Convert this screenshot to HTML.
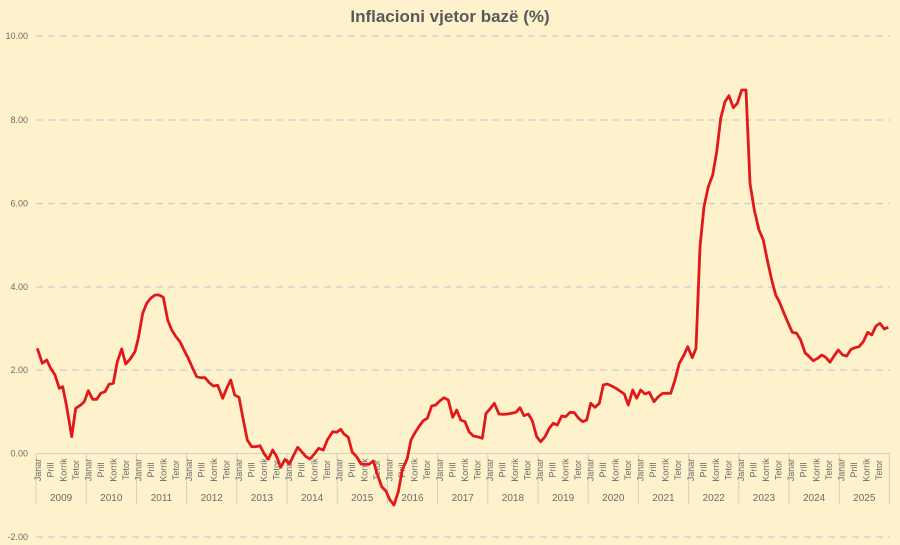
<!DOCTYPE html>
<html><head><meta charset="utf-8"><style>
html,body{margin:0;padding:0;background:#FEF2CC;}
svg{display:block;font-family:"Liberation Sans",sans-serif;}
.g{stroke:#c9cfd4;stroke-width:1.3;stroke-dasharray:7,5;}
.yl{font-size:9px;fill:#6b6b6b;text-anchor:end;}
.m{font-size:9px;fill:#6b6b6b;text-anchor:middle;}
.yr{font-size:10px;fill:#6b6b6b;text-anchor:middle;}
.s{stroke:#d6cfb8;stroke-width:1;}
</style></head><body>
<svg width="900" height="545" viewBox="0 0 900 545">
<rect width="900" height="545" fill="#FEF2CC"/>
<text x="450" y="22" text-anchor="middle" font-size="17" font-weight="bold" fill="#595959">Inflacioni  vjetor bazë (%)</text>
<line class="g" x1="36" x2="890" y1="36" y2="36"/>
<line class="g" x1="36" x2="890" y1="120" y2="120"/>
<line class="g" x1="36" x2="890" y1="203.5" y2="203.5"/>
<line class="g" x1="36" x2="890" y1="287" y2="287"/>
<line class="g" x1="36" x2="890" y1="370" y2="370"/>
<line class="g" x1="36" x2="890" y1="537" y2="537"/>
<line x1="36" x2="890" y1="453.5" y2="453.5" stroke="#d6d2c4" stroke-width="1"/>
<text class="yl" x="28" y="39">10.00</text>
<text class="yl" x="28" y="123">8.00</text>
<text class="yl" x="28" y="206.5">6.00</text>
<text class="yl" x="28" y="290">4.00</text>
<text class="yl" x="28" y="373">2.00</text>
<text class="yl" x="28" y="456.5">0.00</text>
<text class="yl" x="28" y="540">-2.00</text>
<g id="y0" transform="translate(36,0)"><line class="s" x1="0" x2="0" y1="453" y2="504"/><text class="m" transform="translate(5.2,470) rotate(-90)">Janar</text><text class="m" transform="translate(17.7,470) rotate(-90)">Prill</text><text class="m" transform="translate(30.3,470) rotate(-90)">Korrik</text><text class="m" transform="translate(42.8,470) rotate(-90)">Tetor</text><text class="yr" x="25.1" y="501">2009</text></g>
<g transform="translate(86.2,0)"><line class="s" x1="0" x2="0" y1="453" y2="504"/><text class="m" transform="translate(5.2,470) rotate(-90)">Janar</text><text class="m" transform="translate(17.7,470) rotate(-90)">Prill</text><text class="m" transform="translate(30.3,470) rotate(-90)">Korrik</text><text class="m" transform="translate(42.8,470) rotate(-90)">Tetor</text><text class="yr" x="25.1" y="501">2010</text></g>
<g transform="translate(136.4,0)"><line class="s" x1="0" x2="0" y1="453" y2="504"/><text class="m" transform="translate(5.2,470) rotate(-90)">Janar</text><text class="m" transform="translate(17.7,470) rotate(-90)">Prill</text><text class="m" transform="translate(30.3,470) rotate(-90)">Korrik</text><text class="m" transform="translate(42.8,470) rotate(-90)">Tetor</text><text class="yr" x="25.1" y="501">2011</text></g>
<g transform="translate(186.6,0)"><line class="s" x1="0" x2="0" y1="453" y2="504"/><text class="m" transform="translate(5.2,470) rotate(-90)">Janar</text><text class="m" transform="translate(17.7,470) rotate(-90)">Prill</text><text class="m" transform="translate(30.3,470) rotate(-90)">Korrik</text><text class="m" transform="translate(42.8,470) rotate(-90)">Tetor</text><text class="yr" x="25.1" y="501">2012</text></g>
<g transform="translate(236.8,0)"><line class="s" x1="0" x2="0" y1="453" y2="504"/><text class="m" transform="translate(5.2,470) rotate(-90)">Janar</text><text class="m" transform="translate(17.7,470) rotate(-90)">Prill</text><text class="m" transform="translate(30.3,470) rotate(-90)">Korrik</text><text class="m" transform="translate(42.8,470) rotate(-90)">Tetor</text><text class="yr" x="25.1" y="501">2013</text></g>
<g transform="translate(287,0)"><line class="s" x1="0" x2="0" y1="453" y2="504"/><text class="m" transform="translate(5.2,470) rotate(-90)">Janar</text><text class="m" transform="translate(17.7,470) rotate(-90)">Prill</text><text class="m" transform="translate(30.3,470) rotate(-90)">Korrik</text><text class="m" transform="translate(42.8,470) rotate(-90)">Tetor</text><text class="yr" x="25.1" y="501">2014</text></g>
<g transform="translate(337.2,0)"><line class="s" x1="0" x2="0" y1="453" y2="504"/><text class="m" transform="translate(5.2,470) rotate(-90)">Janar</text><text class="m" transform="translate(17.7,470) rotate(-90)">Prill</text><text class="m" transform="translate(30.3,470) rotate(-90)">Korrik</text><text class="m" transform="translate(42.8,470) rotate(-90)">Tetor</text><text class="yr" x="25.1" y="501">2015</text></g>
<g transform="translate(387.4,0)"><line class="s" x1="0" x2="0" y1="453" y2="504"/><text class="m" transform="translate(5.2,470) rotate(-90)">Janar</text><text class="m" transform="translate(17.7,470) rotate(-90)">Prill</text><text class="m" transform="translate(30.3,470) rotate(-90)">Korrik</text><text class="m" transform="translate(42.8,470) rotate(-90)">Tetor</text><text class="yr" x="25.1" y="501">2016</text></g>
<g transform="translate(437.6,0)"><line class="s" x1="0" x2="0" y1="453" y2="504"/><text class="m" transform="translate(5.2,470) rotate(-90)">Janar</text><text class="m" transform="translate(17.7,470) rotate(-90)">Prill</text><text class="m" transform="translate(30.3,470) rotate(-90)">Korrik</text><text class="m" transform="translate(42.8,470) rotate(-90)">Tetor</text><text class="yr" x="25.1" y="501">2017</text></g>
<g transform="translate(487.8,0)"><line class="s" x1="0" x2="0" y1="453" y2="504"/><text class="m" transform="translate(5.2,470) rotate(-90)">Janar</text><text class="m" transform="translate(17.7,470) rotate(-90)">Prill</text><text class="m" transform="translate(30.3,470) rotate(-90)">Korrik</text><text class="m" transform="translate(42.8,470) rotate(-90)">Tetor</text><text class="yr" x="25.1" y="501">2018</text></g>
<g transform="translate(538,0)"><line class="s" x1="0" x2="0" y1="453" y2="504"/><text class="m" transform="translate(5.2,470) rotate(-90)">Janar</text><text class="m" transform="translate(17.7,470) rotate(-90)">Prill</text><text class="m" transform="translate(30.3,470) rotate(-90)">Korrik</text><text class="m" transform="translate(42.8,470) rotate(-90)">Tetor</text><text class="yr" x="25.1" y="501">2019</text></g>
<g transform="translate(588.2,0)"><line class="s" x1="0" x2="0" y1="453" y2="504"/><text class="m" transform="translate(5.2,470) rotate(-90)">Janar</text><text class="m" transform="translate(17.7,470) rotate(-90)">Prill</text><text class="m" transform="translate(30.3,470) rotate(-90)">Korrik</text><text class="m" transform="translate(42.8,470) rotate(-90)">Tetor</text><text class="yr" x="25.1" y="501">2020</text></g>
<g transform="translate(638.4,0)"><line class="s" x1="0" x2="0" y1="453" y2="504"/><text class="m" transform="translate(5.2,470) rotate(-90)">Janar</text><text class="m" transform="translate(17.7,470) rotate(-90)">Prill</text><text class="m" transform="translate(30.3,470) rotate(-90)">Korrik</text><text class="m" transform="translate(42.8,470) rotate(-90)">Tetor</text><text class="yr" x="25.1" y="501">2021</text></g>
<g transform="translate(688.6,0)"><line class="s" x1="0" x2="0" y1="453" y2="504"/><text class="m" transform="translate(5.2,470) rotate(-90)">Janar</text><text class="m" transform="translate(17.7,470) rotate(-90)">Prill</text><text class="m" transform="translate(30.3,470) rotate(-90)">Korrik</text><text class="m" transform="translate(42.8,470) rotate(-90)">Tetor</text><text class="yr" x="25.1" y="501">2022</text></g>
<g transform="translate(738.8,0)"><line class="s" x1="0" x2="0" y1="453" y2="504"/><text class="m" transform="translate(5.2,470) rotate(-90)">Janar</text><text class="m" transform="translate(17.7,470) rotate(-90)">Prill</text><text class="m" transform="translate(30.3,470) rotate(-90)">Korrik</text><text class="m" transform="translate(42.8,470) rotate(-90)">Tetor</text><text class="yr" x="25.1" y="501">2023</text></g>
<g transform="translate(789,0)"><line class="s" x1="0" x2="0" y1="453" y2="504"/><text class="m" transform="translate(5.2,470) rotate(-90)">Janar</text><text class="m" transform="translate(17.7,470) rotate(-90)">Prill</text><text class="m" transform="translate(30.3,470) rotate(-90)">Korrik</text><text class="m" transform="translate(42.8,470) rotate(-90)">Tetor</text><text class="yr" x="25.1" y="501">2024</text></g>
<g transform="translate(839.2,0)"><line class="s" x1="0" x2="0" y1="453" y2="504"/><text class="m" transform="translate(5.2,470) rotate(-90)">Janar</text><text class="m" transform="translate(17.7,470) rotate(-90)">Prill</text><text class="m" transform="translate(30.3,470) rotate(-90)">Korrik</text><text class="m" transform="translate(42.8,470) rotate(-90)">Tetor</text><text class="yr" x="25.1" y="501">2025</text></g>
<line class="s" x1="889.4" x2="889.4" y1="453" y2="504"/>
<polyline fill="none" stroke="#E0191B" stroke-width="2.8" stroke-linejoin="round" points="37.3,348.3 42.3,363.3 46.7,360 50.7,368.3 55,375 59.3,388.3 62.7,386.7 66.7,406.7 71.7,436.7 75.7,408.3 80.7,405 84.3,401.7 88.3,390.7 92.7,399.3 96.7,399.3 100.7,393.3 105,391.7 109,384.3 113.3,383.3 117.3,361.7 121.7,349 125.7,364 130,359.3 135,351.7 138.3,338.3 142.7,313.3 146.7,303.3 150.7,298.3 155,295 159,295 163.3,297.3 167.7,320 171.7,330 176,336.7 180,341.7 184,350 188.3,358.3 192.7,368.3 196.7,376.7 200.7,377.7 205,377.7 209.3,382.7 213.3,386 217.7,385.3 222.7,398.3 226.7,388.3 230.7,380 234.7,395 239,397.3 243.3,420 247.3,440 251.7,446.7 255.7,446.7 260,445.7 264.3,454 268.3,459.3 272.7,450 276.7,456.7 280.7,467.3 285,459.3 289.3,464 293.3,456 297.7,447.3 301.7,451.7 306,456.7 310,459 314.3,454 318.7,448.3 323.3,450 327.3,440 332.7,431.7 336.7,432.3 340.7,429.3 344,434 348.3,437.3 352.3,452.3 356.7,456.7 361,464 365,464.3 369,464.3 373.3,461 377.3,474 381.7,486.7 385.7,490.7 390,500 394,505 398.3,491.7 402.3,470 407.3,458.3 411,440 415,432.7 419.3,426 423.3,420.7 427.3,418.3 431.7,406 435.7,405 440,400.7 444,397.7 448.3,400 452.7,417.3 456.7,410 460.7,420 465,421.7 469,431.7 473.3,436 477.3,436.7 482.3,438.3 486,413.3 490,409 494.3,403.3 499,414 503.3,414.3 507.7,414 511.7,413.3 516,412.3 520,407.7 524,415.7 528.3,414 532.3,420.7 536.7,436.7 540.7,441.7 545,436.7 549.3,428.3 553.3,423.3 557.3,425 561.7,416 565.7,416.7 570,412.3 574.3,412.7 578.7,418.3 582.7,421.7 586.7,420 590.7,403.3 595,407.3 599.3,403.3 603.3,385 607.3,384 611.7,386 616,388.3 620,391 624.3,394 628.3,405 632.7,390 636.7,398.3 640.7,390 645,394 649.3,392.3 654,401.7 658.3,396.7 662.7,393.3 670.7,393.3 675,380 679.3,363.3 684,355 687.7,346.7 692.3,357.7 696,348.3 700,246.7 704,206.7 708.3,186.7 712.7,175 716.7,151.7 720.7,118.3 725,101.7 729,95.7 733.3,107.7 737.3,103.3 741.7,90 746,90 750,183.3 754.3,210 759,230 763.3,240 767.3,260 771.7,280 775.7,295 779.3,301.7 784,313.3 788.3,323.3 792.3,332.3 796.7,333.3 800.7,340 805,352.7 809.3,356.7 813.3,360.7 817.7,358.3 821.7,355 825.7,357.3 830,362.3 834,356 838.3,350 842.7,355 846.7,356 851,349.3 855,347.7 859,346.7 863.3,341.7 867.7,332.3 871.7,335 876,326 880,323.3 884.3,329 888.3,327.3"/>
</svg>
</body></html>
